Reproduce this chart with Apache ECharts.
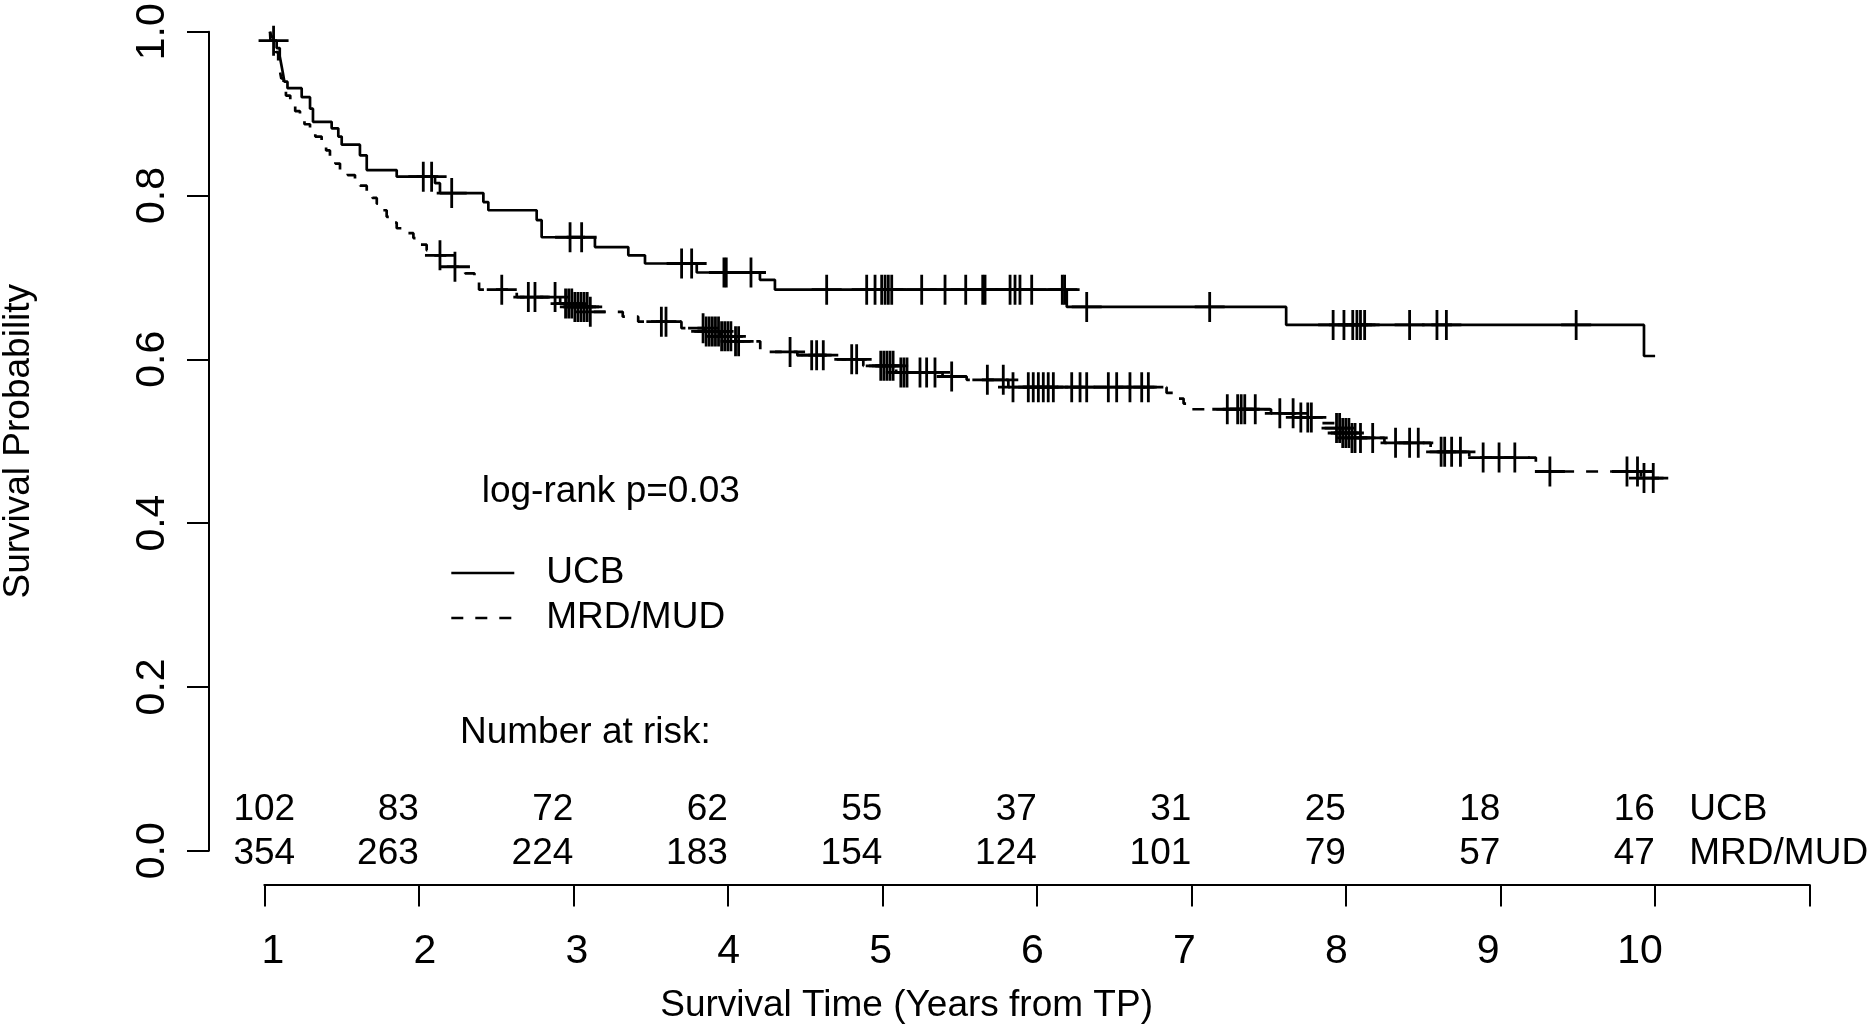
<!DOCTYPE html>
<html><head><meta charset="utf-8">
<script src="https://cdn.jsdelivr.net/npm/echarts/dist/echarts.min.js"></script>
<style>html,body{margin:0;padding:0;background:#fff}#c{width:1873px;height:1025px}</style>
</head><body><div id="c"></div>
<script>
const FONT = '"Liberation Sans", Arial, Helvetica, sans-serif';

// ---- Kaplan-Meier step data (time in axis units, survival probability) ----
const ucbTime = [1.037, 1.04, 1.08, 1.10, 1.11, 1.12, 1.13, 1.15, 1.242, 1.296, 1.315, 1.436, 1.479, 1.501, 1.619, 1.663, 1.857, 2.105, 2.137, 2.418, 2.450, 2.763, 2.795, 3.140, 3.356, 3.464, 3.799, 4.208, 4.305, 6.194, 7.614, 9.930, 10.002];
const ucbSurv = [1.000, 0.989, 0.980, 0.970, 0.960, 0.950, 0.939, 0.931, 0.920, 0.906, 0.890, 0.882, 0.872, 0.862, 0.849, 0.831, 0.823, 0.815, 0.803, 0.792, 0.782, 0.770, 0.749, 0.737, 0.727, 0.717, 0.706, 0.697, 0.685, 0.664, 0.642, 0.604, 0.604];
const ucbCensor = [1.06, 2.029, 2.083, 2.213, 2.979, 3.054, 3.701, 3.766, 3.975, 3.99, 4.150, 4.640, 4.899, 4.953, 4.996, 5.018, 5.039, 5.061, 5.255, 5.406, 5.540, 5.650, 5.665, 5.827, 5.859, 5.891, 5.967, 6.165, 6.180, 6.323, 7.119, 7.918, 7.988, 8.045, 8.072, 8.095, 8.122, 8.413, 8.590, 8.651, 9.491];

const mrdTime = [1.037, 1.045, 1.06, 1.075, 1.09, 1.10, 1.11, 1.125, 1.14, 1.168, 1.20, 1.231, 1.26, 1.296, 1.33, 1.371, 1.40, 1.425, 1.46, 1.490, 1.54, 1.587, 1.62, 1.663, 1.70, 1.728, 1.76, 1.792, 1.825, 1.857, 1.91, 1.965, 2.01, 2.051, 2.10, 2.18, 2.30, 2.36, 2.39, 2.634, 2.915, 3.00, 3.10, 3.32, 3.42, 3.70, 3.85, 3.95, 4.05, 4.21, 4.45, 4.683, 4.877, 5.09, 5.39, 5.546, 5.816, 6.84, 6.90, 6.95, 6.99, 7.516, 7.69, 7.80, 7.93, 7.98, 8.03, 8.25, 8.549, 8.799, 9.23, 9.91, 10.093];
const mrdSurv = [1.0, 0.994, 0.985, 0.975, 0.963, 0.953, 0.943, 0.932, 0.922, 0.913, 0.903, 0.893, 0.887, 0.880, 0.872, 0.864, 0.855, 0.847, 0.839, 0.831, 0.825, 0.819, 0.812, 0.805, 0.797, 0.790, 0.782, 0.774, 0.767, 0.760, 0.754, 0.748, 0.740, 0.733, 0.727, 0.713, 0.705, 0.695, 0.685, 0.676, 0.668, 0.664, 0.658, 0.652, 0.646, 0.638, 0.634, 0.628, 0.622, 0.609, 0.605, 0.600, 0.592, 0.584, 0.579, 0.575, 0.566, 0.559, 0.552, 0.546, 0.539, 0.534, 0.529, 0.522, 0.516, 0.510, 0.504, 0.498, 0.487, 0.480, 0.463, 0.455, 0.455];
const mrdCensor = [2.137, 2.234, 2.537, 2.709, 2.752, 2.882, 2.95, 2.97, 2.99, 3.01, 3.03, 3.05, 3.07, 3.09, 3.11, 3.57, 3.60, 3.84, 3.86, 3.88, 3.90, 3.92, 3.94, 3.96, 3.98, 4.00, 4.02, 4.05, 4.07, 4.403, 4.543, 4.575, 4.618, 4.802, 4.834, 4.99, 5.01, 5.03, 5.05, 5.07, 5.12, 5.14, 5.16, 5.244, 5.287, 5.341, 5.449, 5.680, 5.783, 5.846, 5.945, 5.977, 6.010, 6.042, 6.074, 6.107, 6.226, 6.280, 6.323, 6.463, 6.517, 6.603, 6.679, 6.722, 7.233, 7.300, 7.323, 7.346, 7.414, 7.573, 7.659, 7.709, 7.754, 7.777, 7.94, 7.96, 7.98, 8.00, 8.02, 8.04, 8.06, 8.095, 8.174, 8.322, 8.413, 8.469, 8.617, 8.64, 8.685, 8.742, 8.889, 8.992, 9.094, 9.321, 9.820, 9.888, 9.93, 9.990];

// ---- axes / table ----
const xTickValues = [1, 2, 3, 4, 5, 6, 7, 8, 9, 10];
const groups = ['UCB', 'MRD/MUD'];
const riskUCB = [102, 83, 72, 62, 55, 37, 31, 25, 18, 16];
const riskMRD = [354, 263, 224, 183, 154, 124, 101, 79, 57, 47];

function survAt(times, surv, t) {
  let s = surv[0];
  for (let i = 0; i < times.length; i++) { if (times[i] <= t) s = surv[i]; else break; }
  return s;
}
const zip = (a, b) => a.map((v, i) => [v, b[i]]);
const PLUS = 'path://M13.6,0 H16.4 V13.6 H30 V16.4 H16.4 V30 H13.6 V16.4 H0 V13.6 H13.6 Z';

const riskData = [];
[riskUCB, riskMRD].forEach((row, r) => {
  row.forEach((n, i) => {
    riskData.push({ value: [xTickValues[i], groups[r], String(n)],
      label: i === 0 ? { position: 'inside' } : { position: 'left', distance: 0 } });
  });
});

const chart = echarts.init(document.getElementById('c'), null, { renderer: 'canvas' });
const axisLine = { show: true, onZero: false, lineStyle: { color: '#000', width: 2 } };
chart.setOption({
  animation: false,
  backgroundColor: '#fff',
  textStyle: { fontFamily: FONT, color: '#000' },
  grid: [
    { left: 264.3, right: 63.7, top: 31.7, bottom: 174.3, outerBoundsMode: 'none', containLabel: false },
    { left: 273, right: 232.9, top: 31.7, bottom: 174.3, outerBoundsMode: 'none', containLabel: false },
    { left: 264.3, right: 63.7, top: 788.4, bottom: 150, outerBoundsMode: 'none', containLabel: false }
  ],
  xAxis: [
    { gridIndex: 0, type: 'value', min: 1, max: 11, interval: 1, offset: 33.8,
      axisLine: axisLine, axisTick: { show: true, length: 22, lineStyle: { color: '#000', width: 2 } },
      axisLabel: { show: false }, splitLine: { show: false } },
    { gridIndex: 1, type: 'value', min: 1, max: 10, interval: 1, offset: 33.8,
      axisLine: { show: false, onZero: false }, axisTick: { show: false }, splitLine: { show: false },
      axisLabel: { show: true, fontSize: 41, color: '#000', fontFamily: FONT, margin: 47, showMinLabel: true, showMaxLabel: true } },
    { gridIndex: 2, type: 'value', min: 1, max: 11, show: false }
  ],
  yAxis: [
    { gridIndex: 0, type: 'value', min: 0, max: 1, interval: 0.2, offset: 55.3,
      axisLine: axisLine, axisTick: { show: true, length: 22, lineStyle: { color: '#000', width: 2 } },
      splitLine: { show: false },
      axisLabel: { show: true, rotate: 90, fontSize: 41, color: '#000', fontFamily: FONT, margin: 36, formatter: v => v.toFixed(1) },
      name: 'Survival Probability', nameLocation: 'middle', nameRotate: 90, nameGap: 172,
      nameTextStyle: { fontSize: 37, color: '#000', fontFamily: FONT } },
    { gridIndex: 1, type: 'value', min: 0, max: 1, show: false },
    { gridIndex: 2, type: 'category', data: groups, inverse: true, position: 'right',
      axisLine: { show: false }, axisTick: { show: false }, splitLine: { show: false },
      axisLabel: { show: true, interval: 0, hideOverlap: false, align: 'left', margin: -120, fontSize: 37, color: '#000', fontFamily: FONT } }
  ],
  legend: {
    data: groups, orient: 'vertical', left: 450, top: 554.5, padding: 0,
    itemWidth: 63, itemHeight: 37, itemGap: 8, selectedMode: false,
    itemStyle: { opacity: 0, color: 'rgba(0,0,0,0)', borderWidth: 0 },
    lineStyle: { width: 2.6 },
    textStyle: { fontSize: 37, color: '#000', fontFamily: FONT, padding: [0, 0, 0, 27] }
  },
  graphic: [
    { type: 'text', x: 481.7, y: 492, style: { text: 'log-rank p=0.03', fontSize: 37, fontFamily: FONT, fill: '#000', align: 'left', verticalAlign: 'middle' } },
    { type: 'text', x: 460, y: 733, style: { text: 'Number at risk:', fontSize: 37, fontFamily: FONT, fill: '#000', align: 'left', verticalAlign: 'middle' } },
    { type: 'text', x: 906.6, y: 1006, style: { text: 'Survival Time (Years from TP)', fontSize: 37, fontFamily: FONT, fill: '#000', align: 'center', verticalAlign: 'middle' } }
  ],
  series: [
    { name: 'UCB', type: 'line', xAxisIndex: 0, yAxisIndex: 0, step: 'end', symbol: 'none', showSymbol: false,
      data: zip(ucbTime, ucbSurv), lineStyle: { color: '#000', width: 2.7, type: 'solid' }, itemStyle: { color: '#000' }, z: 3 },
    { name: 'MRD/MUD', type: 'line', xAxisIndex: 0, yAxisIndex: 0, step: 'end', symbol: 'none', showSymbol: false,
      data: zip(mrdTime, mrdSurv), lineStyle: { color: '#000', width: 2.7, type: [12, 12] }, itemStyle: { color: '#000' }, z: 3 },
    { name: 'UCB censored', type: 'scatter', xAxisIndex: 0, yAxisIndex: 0, symbol: PLUS, symbolSize: 30,
      data: ucbCensor.map(t => [t, survAt(ucbTime, ucbSurv, t)]), itemStyle: { color: '#000', opacity: 1 }, z: 4 },
    { name: 'MRD/MUD censored', type: 'scatter', xAxisIndex: 0, yAxisIndex: 0, symbol: PLUS, symbolSize: 30,
      data: mrdCensor.map(t => [t, survAt(mrdTime, mrdSurv, t)]), itemStyle: { color: '#000', opacity: 1 }, z: 4 },
    { name: 'Number at risk', type: 'scatter', xAxisIndex: 2, yAxisIndex: 2, symbolSize: 0, clip: false,
      itemStyle: { color: '#000', opacity: 1 }, data: riskData,
      label: { show: true, formatter: p => p.value[2], fontSize: 37, color: '#000', opacity: 1, fontFamily: FONT } }
  ]
});
</script></body></html>
